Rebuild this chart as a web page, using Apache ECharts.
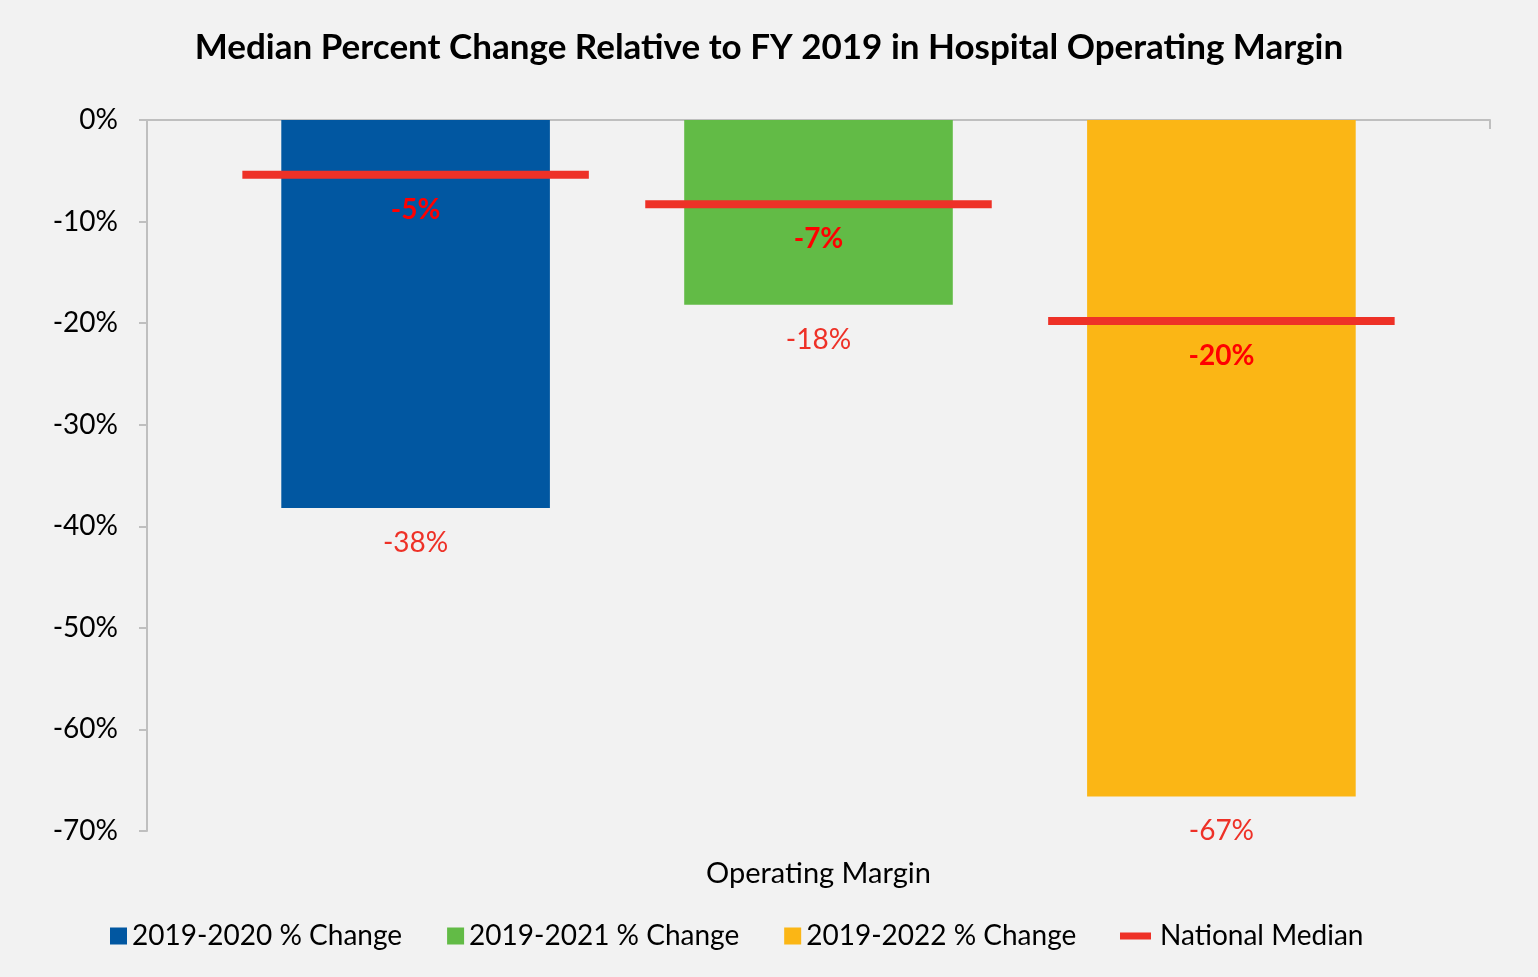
<!DOCTYPE html>
<html>
<head>
<meta charset="utf-8">
<title>Median Percent Change Relative to FY 2019 in Hospital Operating Margin</title>
<script src="https://cdn.jsdelivr.net/npm/echarts@6/dist/echarts.min.js"></script>
<style>
  html, body { margin: 0; padding: 0; background: #f2f2f2; }
  #chart { width: 1538px; height: 977px; }
</style>
</head>
<body>
<div id="chart"></div>
<script>
// data
const categories = ['Operating Margin'];
const seriesNames = ['2019-2020 % Change', '2019-2021 % Change', '2019-2022 % Change'];
const barValues = [-38.2, -18.2, -66.6];
const barLabels = ['-38%', '-18%', '-67%'];
// national median per period (line position) and its printed label
const medianCenters = [0.2, 0.5, 0.8]; // where each bar sits inside the category, 0..1
const medianValues = [-5.4, -8.3, -19.8];
const medianLabels = ['-5%', '-7%', '-20%'];
const yTicks = { min: -70, max: 0, interval: 10 };

const colors = ['#0157a1', '#62bb46', '#fbb615'];
const red = '#ee3127';
const font = 'Lato, "Open Sans", sans-serif';

const chart = echarts.init(document.getElementById('chart'));

const barSeries = seriesNames.map((name, i) => ({
  name: name,
  type: 'bar',
  xAxisIndex: 0,
  barWidth: '20%',
  barGap: '50%',
  itemStyle: { color: colors[i] },
  data: [barValues[i]],
  label: {
    show: true,
    position: 'bottom',
    distance: 21,
    color: red,
    fontFamily: font,
    fontSize: 28,
    formatter: () => barLabels[i]
  }
}));

const option = {
  backgroundColor: '#f2f2f2',
  animation: false,
  title: {
    text: 'Median Percent Change Relative to FY 2019 in Hospital Operating Margin',
    left: 'center',
    top: 25,
    textStyle: { fontFamily: font, fontWeight: 'bold', fontSize: 35, color: '#000' }
  },
  legend: [
    {
      bottom: 22,
      left: 105,
      itemGap: 45,
      itemWidth: 17,
      itemHeight: 17,
      textStyle: { fontFamily: font, fontSize: 28, color: '#000' },
      data: seriesNames.map(n => ({ name: n, icon: 'rect' }))
    },
    {
      bottom: 22,
      left: 1115,
      itemWidth: 31,
      itemHeight: 7,
      textStyle: { fontFamily: font, fontSize: 28, color: '#000', padding: [0, 0, 0, 4] },
      data: [{ name: 'National Median', icon: 'rect', itemStyle: { color: red } }]
    }
  ],
  grid: { left: 147, right: 48, top: 120, bottom: 146, containLabel: false },
  xAxis: [
    {
      type: 'category',
      data: categories,
      position: 'bottom',
      axisLine: { show: false, onZero: false },
      axisTick: { show: false },
      axisLabel: { margin: 28, fontFamily: font, fontSize: 29, color: '#000' }
    },
    {
      type: 'value',
      min: 0,
      max: 1,
      interval: 1,
      position: 'top',
      axisLine: { show: true, lineStyle: { color: '#bfbfbf', width: 2 } },
      axisTick: { show: true, inside: true, length: 9, lineStyle: { color: '#bfbfbf', width: 2 } },
      axisLabel: { show: false },
      splitLine: { show: false }
    }
  ],
  yAxis: {
    type: 'value',
    min: yTicks.min,
    max: yTicks.max,
    interval: yTicks.interval,
    axisLine: { show: true, lineStyle: { color: '#bfbfbf', width: 2 } },
    axisTick: { show: true, length: 8, lineStyle: { color: '#bfbfbf', width: 2 } },
    axisLabel: { margin: 29, fontFamily: font, fontSize: 28, color: '#000', formatter: '{value}%' },
    splitLine: { show: false }
  },
  series: barSeries.concat([{
    name: 'National Median',
    type: 'custom',
    xAxisIndex: 1,
    itemStyle: { color: red },
    z: 5,
    data: medianCenters.map((c, i) => [c, medianValues[i]]),
    renderItem: function (params, api) {
      const x = api.value(0);
      const y = api.value(1);
      const half = 0.129;
      const p1 = api.coord([x - half, y]);
      const p2 = api.coord([x + half, y]);
      return {
        type: 'group',
        children: [
          {
            type: 'rect',
            shape: { x: p1[0], y: p1[1] - 4, width: p2[0] - p1[0], height: 8 },
            style: { fill: red }
          },
          {
            type: 'text',
            style: {
              text: medianLabels[params.dataIndex],
              x: (p1[0] + p2[0]) / 2,
              y: p1[1] + 35,
              align: 'center',
              verticalAlign: 'middle',
              fill: '#ff0000',
              font: 'bold 28px ' + font
            }
          }
        ]
      };
    }
  }])
};

chart.setOption(option);
</script>
</body>
</html>
